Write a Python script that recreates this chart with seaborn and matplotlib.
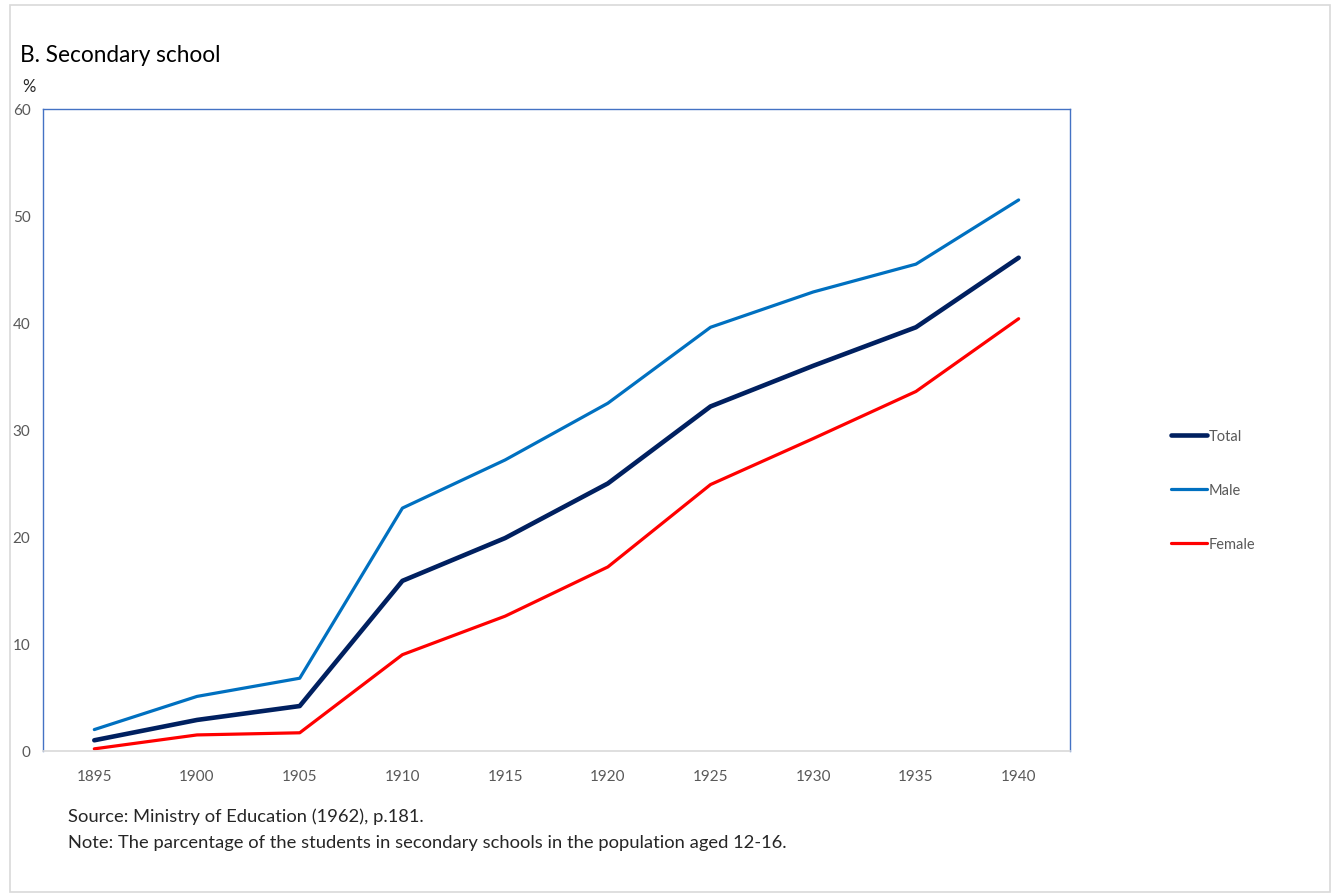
import matplotlib
matplotlib.use("Agg")
import matplotlib.pyplot as plt
from matplotlib.patches import Rectangle
from matplotlib.lines import Line2D
import pandas as pd
import seaborn as sns

sns.set_style("white")
plt.rcParams['font.family'] = ['Lato', 'DejaVu Sans']

# values (% of population aged 12-16)
years = [1895, 1900, 1905, 1910, 1915, 1920, 1925, 1930, 1935, 1940]
total = [1.0, 2.9, 4.2, 15.9, 19.9, 25.0, 32.2, 36.0, 39.6, 46.1]
male = [2.0, 5.1, 6.8, 22.7, 27.2, 32.5, 39.6, 42.9, 45.5, 51.5]
female = [0.2, 1.5, 1.7, 9.0, 12.6, 17.2, 24.9, 29.2, 33.6, 40.4]

series_names = ["Total", "Male", "Female"]
colors = {"Total": "#002060", "Male": "#0070C0", "Female": "#FF0000"}
widths = {"Total": 3.3, "Male": 2.3, "Female": 2.3}

df = pd.DataFrame({"year": years, "Total": total, "Male": male, "Female": female})
long_df = df.melt(id_vars="year", var_name="series", value_name="pct")

fig = plt.figure(figsize=(13.34, 8.95), dpi=100)
ax = fig.add_axes([0.0322, 0.1598, 0.7699, 0.7173])

for name in series_names:
    sub = long_df[long_df.series == name]
    sns.lineplot(data=sub, x="year", y="pct", ax=ax, color=colors[name],
                 linewidth=widths[name], legend=False)

ax.set_xlim(1892.5, 1942.5)
ax.set_ylim(0, 60)
ax.set_xticks(years)
ax.set_yticks(range(0, 61, 10))
ax.set_xlabel("")
ax.set_ylabel("")
ax.tick_params(axis="both", length=0, labelsize=11, labelcolor="#595959")
ax.tick_params(axis="x", pad=13)
ax.tick_params(axis="y", pad=9)

for side in ["left", "top", "right"]:
    ax.spines[side].set_color("#4472C4")
    ax.spines[side].set_linewidth(1.0)
ax.spines["bottom"].set_color("#D9D9D9")
ax.spines["bottom"].set_linewidth(1.2)

# legend
handles = [Line2D([0], [0], color=colors[n], linewidth=widths[n]) for n in series_names]
fig.legend(handles, series_names, loc="center left",
           bbox_to_anchor=(0.868, 0.451), frameon=False, fontsize=10.5,
           labelcolor="#595959", handlelength=2.5, handletextpad=0.1,
           labelspacing=2.75)

# texts
fig.text(20 / 1334, 1 - 55 / 895, "B. Secondary school", fontsize=16.3,
         va="center", ha="left", color="black")
fig.text(22 / 1334, 1 - 87 / 895, "%", fontsize=12, va="center", ha="left")
fig.text(68 / 1334, 1 - 817 / 895, "Source: Ministry of Education (1962), p.181.",
         fontsize=13.2, va="center", ha="left")
fig.text(68 / 1334, 1 - 843 / 895,
         "Note: The parcentage of the students in secondary schools in the population aged 12-16.",
         fontsize=13.2, va="center", ha="left")

# light outer frame
fig.patches.append(Rectangle((10 / 1334, 2 / 895), 1320 / 1334, 887 / 895,
                             transform=fig.transFigure, fill=False,
                             edgecolor="#D9D9D9", linewidth=1.2))

fig.savefig("out.png", dpi=100)
